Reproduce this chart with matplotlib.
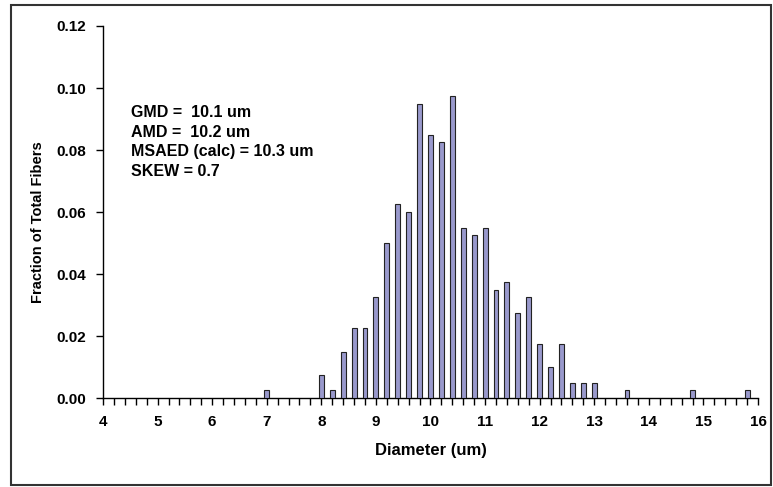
import numpy as np
import matplotlib.pyplot as plt
from matplotlib.patches import Rectangle
from matplotlib.ticker import MultipleLocator

plt.rcParams["font.family"] = ["Liberation Sans", "DejaVu Sans"]
plt.rcParams["font.weight"] = "bold"

# diameter bins (um) and fraction of total fibers
diameters = [7.0, 8.0, 8.2, 8.4, 8.6, 8.8, 9.0, 9.2, 9.4, 9.6, 9.8, 10.0, 10.2,
             10.4, 10.6, 10.8, 11.0, 11.2, 11.4, 11.6, 11.8, 12.0, 12.2, 12.4,
             12.6, 12.8, 13.0, 13.6, 14.8, 15.8]
fractions = [0.0025, 0.0075, 0.0025, 0.015, 0.0225, 0.0225, 0.0325, 0.05, 0.0625,
             0.06, 0.095, 0.085, 0.0825, 0.0975, 0.055, 0.0525, 0.055, 0.035,
             0.0375, 0.0275, 0.0325, 0.0175, 0.01, 0.0175, 0.005, 0.005, 0.005,
             0.0025, 0.0025, 0.0025]

stats_text = "GMD =  10.1 um\nAMD =  10.2 um\nMSAED (calc) = 10.3 um\nSKEW = 0.7"

W, H = 773, 487
fig = plt.figure(figsize=(W / 100, H / 100), dpi=100)
ax = fig.add_axes([103 / W, 1 - 398 / H, (758 - 103) / W, (398 - 26) / H])

ax.bar(diameters, fractions, width=0.09, color="#9999cc", edgecolor="#222222",
       linewidth=0.8, zorder=3)

ax.set_xlim(4, 16)
ax.set_ylim(0, 0.12)
ax.xaxis.set_major_locator(MultipleLocator(1))
ax.xaxis.set_minor_locator(MultipleLocator(0.2))
ax.yaxis.set_major_locator(MultipleLocator(0.02))
ax.yaxis.set_major_formatter(plt.FormatStrFormatter("%.2f"))

for side in ["top", "right"]:
    ax.spines[side].set_visible(False)
for side in ["left", "bottom"]:
    ax.spines[side].set_linewidth(1.0)
    ax.spines[side].set_color("black")

ax.tick_params(axis="both", which="both", direction="out", length=5, width=1,
               labelsize=11)
ax.tick_params(axis="x", which="major", pad=7)
ax.tick_params(axis="y", which="major", pad=7)

ax.set_xlabel("Diameter (um)", fontsize=12, fontweight="bold")
ax.xaxis.set_label_coords(0.5, -(450 - 398) / 372, transform=ax.transAxes)
ax.xaxis.label.set_va("center")
ax.set_ylabel("Fraction of Total Fibers", fontsize=10.5, fontweight="bold")
ax.yaxis.set_label_coords(-(103 - 38) / 655, (398 - 222) / 372)
ax.yaxis.label.set_va("center")

ax.text(131 / W, 1 - 105 / H, stats_text, transform=fig.transFigure,
        fontsize=11.5, fontweight="bold", va="top", ha="left", linespacing=1.38)

# outer chart border
fig.patches.append(Rectangle((11 / W, 1 - 485 / H), (771 - 11) / W, (485 - 5) / H,
                             transform=fig.transFigure, fill=False,
                             edgecolor="#333333", linewidth=1.5))

fig.savefig("out.png", dpi=100)
